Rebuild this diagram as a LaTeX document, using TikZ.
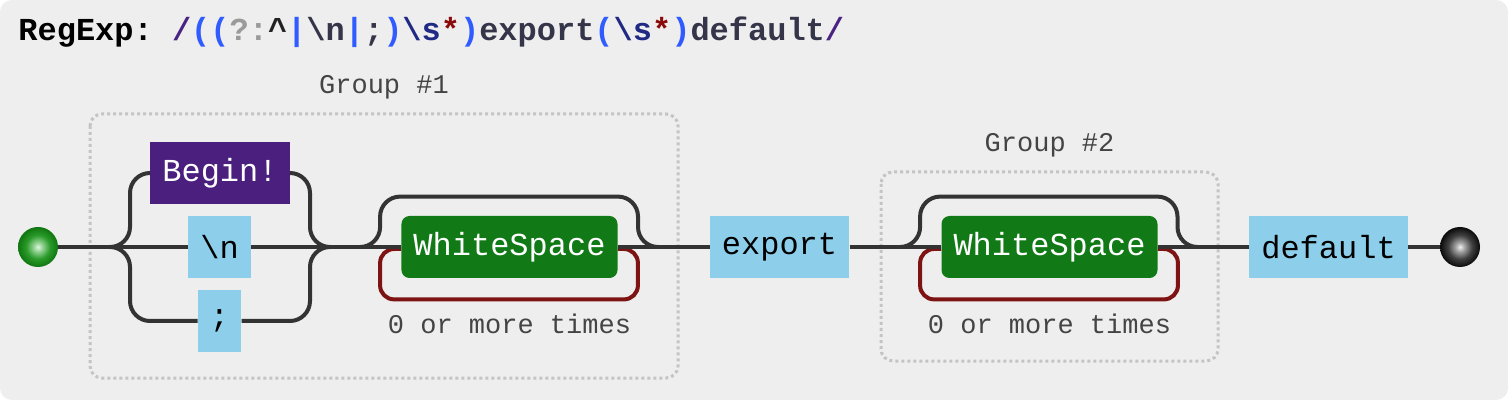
\documentclass[tikz,border=0pt]{standalone}
\usepackage{fontspec}
\setmonofont{Liberation Mono}
\usepackage{tikz}
\usetikzlibrary{shapes,calc}
\definecolor{RxBack}{HTML}{EEEEEE}
\definecolor{RxRail}{HTML}{333333}
\definecolor{RxLoop}{HTML}{7D1313}
\definecolor{RxLiteral}{HTML}{8DCEEA}
\definecolor{RxBegin}{HTML}{4B1F7E}
\definecolor{RxClass}{HTML}{117A17}
\definecolor{RxGroup}{HTML}{C4C4C4}
\definecolor{RxLabel}{HTML}{444444}
\definecolor{RxSlash}{HTML}{4A2383}
\definecolor{RxParen}{HTML}{2F5BFF}
\definecolor{RxGray}{HTML}{9A9A9A}
\definecolor{RxCaret}{HTML}{222222}
\definecolor{RxDark}{HTML}{35354A}
\definecolor{RxNavy}{HTML}{202A85}
\definecolor{RxStar}{HTML}{8B0A0A}
\definecolor{RxStartA}{HTML}{E0F5E0}
\definecolor{RxStartB}{HTML}{8FD08F}
\definecolor{RxStartC}{HTML}{2A9A2A}
\definecolor{RxStartD}{HTML}{0F760F}
\definecolor{RxEndA}{HTML}{F0F0F0}
\definecolor{RxEndB}{HTML}{A0A0A0}
\definecolor{RxEndC}{HTML}{404040}
\definecolor{RxEndD}{HTML}{0A0A0A}
\pgfdeclareradialshading{startshade}{\pgfpoint{0bp}{0bp}}{color(0bp)=(RxStartA); color(6bp)=(RxStartB); color(15bp)=(RxStartC); color(25bp)=(RxStartD); color(50bp)=(RxStartD)}
\pgfdeclareradialshading{endshade}{\pgfpoint{0bp}{0bp}}{color(0bp)=(RxEndA); color(6bp)=(RxEndB); color(15bp)=(RxEndC); color(25bp)=(RxEndD); color(50bp)=(RxEndD)}
\tikzset{
    % Rail line
    railline/.style={
        draw=RxRail,
        line width=2pt
    },
    % Repeat loop
    loopline/.style={
        draw=RxLoop,
        line width=2pt,
        rounded corners=7pt
    },
    % Base box
    basebox/.style={
        minimum height=31pt,
        inner xsep=6pt,
        inner ysep=0pt,
        font=\ttfamily\fontsize{16}{19}\selectfont
    },
    % Literal box
    litbox/.style={
        basebox,
        fill=RxLiteral,
        text=black
    },
    % Anchor box
    beginbox/.style={
        basebox,
        fill=RxBegin,
        text=white
    },
    % Character class box
    classbox/.style={
        basebox,
        fill=RxClass,
        text=white,
        rounded corners=4pt
    },
    % Group frame
    groupbox/.style={
        draw=RxGroup,
        line width=1.5pt,
        dash pattern=on 1.5pt off 1.5pt,
        rounded corners=6pt
    },
    % Group and repeat labels
    grouplabel/.style={
        font=\ttfamily\fontsize{13.5}{16}\selectfont,
        text=RxLabel,
        inner sep=0pt
    },
    % Start and end balls
    startball/.style={
        circle,
        minimum size=20pt,
        inner sep=0pt,
        shading=startshade
    },
    endball/.style={
        circle,
        minimum size=20pt,
        inner sep=0pt,
        shading=endshade
    }
}

\begin{document}
\begin{tikzpicture}[x=0.5pt, y=-0.5pt]
        % Background
        \useasboundingbox (0,0) rectangle (1508,400);
        \fill[RxBack, rounded corners=6pt] (0,0) rectangle (1508,400);

        % Title
        \node[anchor=base west, inner sep=0pt, font=\ttfamily\bfseries\fontsize{16}{19}\selectfont] (title) at (18,41) {RegExp: \textcolor{RxSlash}{/}\textcolor{RxParen}{((}\textcolor{RxGray}{?:}\textcolor{RxCaret}{\textasciicircum}\textcolor{RxParen}{|}\textcolor{RxDark}{\textbackslash n}\textcolor{RxParen}{|}\textcolor{RxDark}{;}\textcolor{RxParen}{)}\textcolor{RxNavy}{\textbackslash s}\textcolor{RxStar}{*}\textcolor{RxParen}{)}\textcolor{RxDark}{export}\textcolor{RxParen}{(}\textcolor{RxNavy}{\textbackslash s}\textcolor{RxStar}{*}\textcolor{RxParen}{)}\textcolor{RxDark}{default}\textcolor{RxSlash}{/}};

        % Groups
        \draw[groupbox] (90,114) rectangle (678,378);
        \node[grouplabel] (g1label) at (384,87) {Group \#1};
        \draw[groupbox] (881,172) rectangle (1218,361);
        \node[grouplabel] (g2label) at (1049.5,145) {Group \#2};

        % Nodes
        \node[startball] (start) at (38,247) {};
        \node[beginbox] (begin) at (220,173) {Begin!};
        \node[litbox] (nl) at (219.5,247) {\textbackslash n};
        \node[litbox] (semi) at (219.5,321) {;};
        \node[classbox] (ws1) at (509.5,247) {WhiteSpace};
        \node[grouplabel] (rep1) at (509.5,324) {0 or more times};
        \node[litbox] (export) at (779.5,247) {export};
        \node[classbox] (ws2) at (1049.5,247) {WhiteSpace};
        \node[grouplabel] (rep2) at (1049.5,324) {0 or more times};
        \node[litbox] (default) at (1328.5,247) {default};
        \node[endball] (end) at (1460,247) {};

        % Fork and join points
        \coordinate (g1in) at (110,247);
        \coordinate (g1out) at (330,247);
        \coordinate (sk1in) at (360,247);
        \coordinate (sk1out) at (658,247);
        \coordinate (sk2in) at (900,247);
        \coordinate (sk2out) at (1197.5,247);

        % Repeat loops
        \draw[loopline] ($(ws1.east)+(0,2)$) -| ($(ws1.south east)+(20,21)$) -| ($(ws1.west)+(-21,2)$) -- ($(ws1.west)+(0,2)$);
        \draw[loopline] ($(ws2.east)+(0,2)$) -| ($(ws2.south east)+(20,21)$) -| ($(ws2.west)+(-21,2)$) -- ($(ws2.west)+(0,2)$);

        % Alternatives
        \draw[railline] (start) -- (g1in);
        \draw[railline, rounded corners=10pt] (g1in) -- ($(g1in)+(20,0)$) |- (begin.west);
        \draw[railline] (g1in) -- (nl);
        \draw[railline, rounded corners=10pt] (g1in) -- ($(g1in)+(20,0)$) |- (semi.west);
        \draw[railline, rounded corners=10pt] (begin.east) -| ($(g1out)+(-20,0)$) -- (g1out);
        \draw[railline] (nl) -- (g1out);
        \draw[railline, rounded corners=10pt] (semi.east) -| ($(g1out)+(-20,0)$) -- (g1out);

        % Main rail
        \draw[railline] (g1out) -- (sk1in) -- (ws1);
        \draw[railline] (ws1) -- (sk1out) -- (export);
        \draw[railline] (export) -- (sk2in) -- (ws2);
        \draw[railline] (ws2) -- (sk2out) -- (default);
        \draw[railline] (default) -- (end);

        % Skip paths
        \draw[railline, rounded corners=10pt] (sk1in) -| ($(ws1.north west)+(-21,-19)$) -| ($(sk1out)+(-20,0)$) -- (sk1out);
        \draw[railline, rounded corners=10pt] (sk2in) -| ($(ws2.north west)+(-21,-19)$) -| ($(sk2out)+(-20,0)$) -- (sk2out);
    \end{tikzpicture}
\end{document}
